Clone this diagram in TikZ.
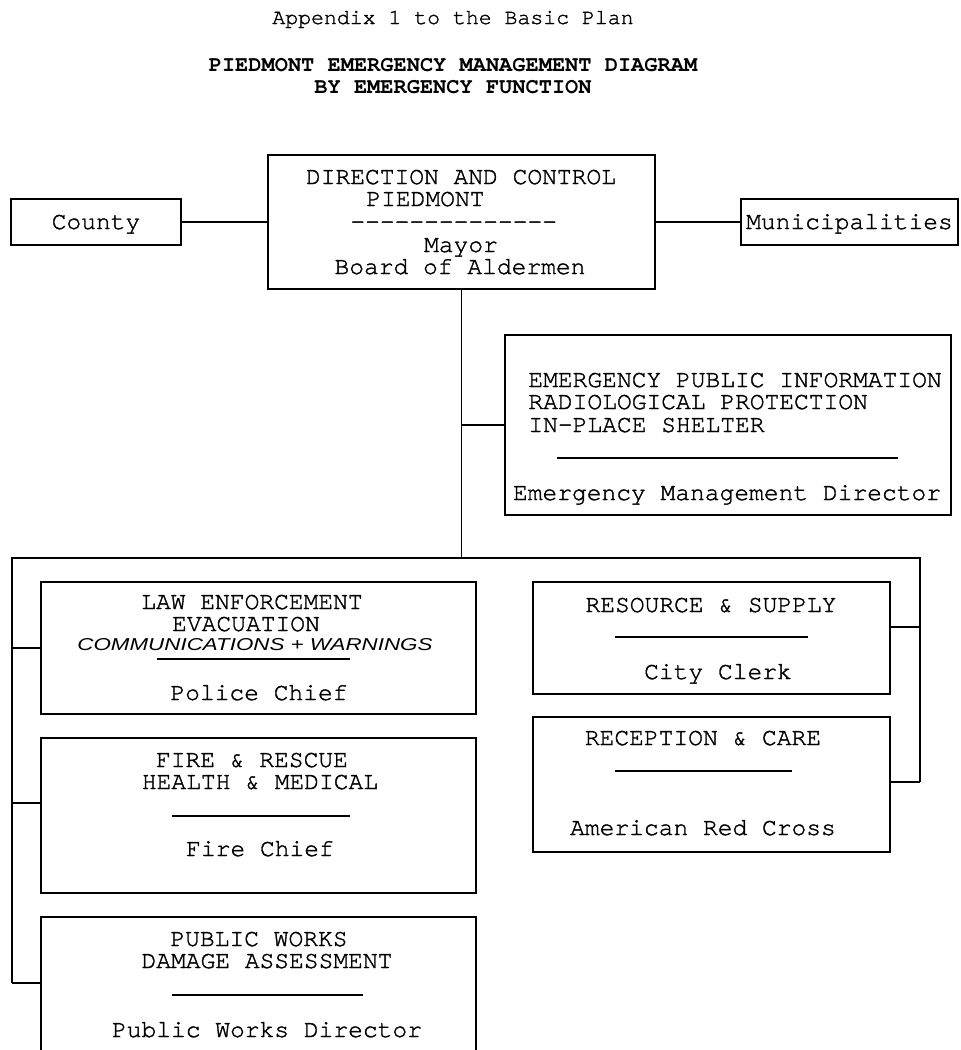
\documentclass[tikz,border=0pt]{standalone}
\usepackage{fontspec}
\usepackage{graphicx}
\setmonofont{TeX Gyre Cursor}
\newfontfamily\typefont{TeX Gyre Cursor}[FakeBold=1.4]
\newfontfamily\handfont{Liberation Sans}
\begin{document}
\begin{tikzpicture}[x=0.5pt, y=-0.5pt,
    box/.style={draw, line width=0.9pt, inner sep=0pt, outer sep=0pt},
    txt/.style={inner sep=0pt, font=\typefont\fontsize{12.3pt}{14pt}\selectfont, text height=7pt, text depth=0pt},
    head/.style={inner sep=0pt, font=\typefont\fontsize{10.75pt}{13pt}\selectfont, text height=6pt, text depth=0pt},
    bighead/.style={head, font=\ttfamily\bfseries\fontsize{11pt}{13pt}\selectfont},
    hand/.style={inner sep=0pt, font=\handfont\itshape\fontsize{8.6pt}{9pt}\selectfont},
    link/.style={line width=0.9pt},
    rule/.style={line width=0.8pt}]
    \useasboundingbox (0,0) rectangle (961,1050);
    \clip (0,0) rectangle (961,1050);
    \node[head] (app) at (453,18) {Appendix 1 to the Basic Plan};
    \node[bighead] (title) at (453,65) {PIEDMONT EMERGENCY MANAGEMENT DIAGRAM};
    \node[bighead] (subtitle) at (453,87) {BY EMERGENCY FUNCTION};
    \node[box, txt, minimum width=85pt, minimum height=23pt] (county) at (96,222) {County};
    \node[box, minimum width=193.5pt, minimum height=67pt] (dc) at (461.5,222) {};
    \node[box, txt, minimum width=108.5pt, minimum height=23pt] (muni) at (849.5,222) {Municipalities};
    \node[txt] (dc1) at (461,177) {DIRECTION AND CONTROL};
    \node[txt, anchor=west] (dc2) at (366,199) {PIEDMONT};
    \node[txt, anchor=west] (dc3) at (350,222) {-{}-{}-{}-{}-{}-{}-{}-{}-{}-{}-{}-{}-{}-{}};
    \node[txt] (dc4) at (461,245) {Mayor};
    \node[txt] (dc5) at (460,267) {Board of Aldermen};
    \node[box, minimum width=223pt, minimum height=90pt] (epi) at (728,425) {};
    \node[txt, anchor=west] (epi1) at (528,380) {EMERGENCY PUBLIC INFORMATION};
    \node[txt, anchor=west] (epi2) at (528,402) {RADIOLOGICAL PROTECTION};
    \node[txt, anchor=west] (epi3) at (528,425) {IN-PLACE SHELTER};
    \draw[rule] (557,458) -- (898,458);
    \node[txt] (epi4) at (727,493) {Emergency Management Director};
    \node[box, minimum width=217.5pt, minimum height=66pt] (law) at (258.5,648) {};
    \node[txt] (law1) at (252,602) {LAW ENFORCEMENT};
    \node[txt] (law2) at (246,624) {EVACUATION};
    \node[hand] (law3) at (255,645) {\scalebox{1.3}[1]{COMMUNICATIONS + WARNINGS}};
    \draw[rule] (157,659) -- (350,659);
    \node[txt] (law4) at (259,693) {Police Chief};
    \node[box, minimum width=217.5pt, minimum height=77.5pt] (fire) at (258.5,815.5) {};
    \node[txt] (fire1) at (252,760) {FIRE \& RESCUE};
    \node[txt] (fire2) at (260,782) {HEALTH \& MEDICAL};
    \draw[rule] (172,816) -- (350,816);
    \node[txt] (fire3) at (260,849) {Fire Chief};
    \node[box, minimum width=217.5pt, minimum height=72.5pt] (pw) at (258.5,989.5) {};
    \node[txt] (pw1) at (259,939) {PUBLIC WORKS};
    \node[txt] (pw2) at (267,961) {DAMAGE ASSESSMENT};
    \draw[rule] (172,995) -- (363,995);
    \node[txt] (pw3) at (267,1030) {Public Works Director};
    \node[box, minimum width=178.5pt, minimum height=56pt] (res) at (711.5,638) {};
    \node[txt] (res1) at (711,605) {RESOURCE \& SUPPLY};
    \draw[rule] (615,637) -- (808,637);
    \node[txt] (res2) at (718,672) {City Clerk};
    \node[box, minimum width=178.5pt, minimum height=67.5pt] (rec) at (711.5,784.5) {};
    \node[txt] (rec1) at (703,738) {RECEPTION \& CARE};
    \draw[rule] (615,771) -- (792,771);
    \node[txt] (rec2) at (703,828) {American Red Cross};
    \coordinate (bus) at (dc.south |- 0,558);
    \coordinate (busL) at (12,558);
    \coordinate (busR) at (920,558);
    \coordinate (jlaw) at (12,648);
    \coordinate (jfire) at (12,803);
    \coordinate (jpw) at (12,983);
    \coordinate (jres) at (920,627);
    \coordinate (jrec) at (920,782);
    \draw[link] (county.east) -- (dc.west);
    \draw[link] (dc.east) -- (muni.west);
    \draw[link] (dc.south) -- (bus);
    \draw[link] (dc.south |- epi.west) -- (epi.west);
    \draw[link] (jpw) -- (busL) -- (busR) -- (jrec);
    \draw[link] (jlaw) -- (jlaw -| law.west);
    \draw[link] (jfire) -- (jfire -| fire.west);
    \draw[link] (jpw) -- (jpw -| pw.west);
    \draw[link] (jres) -- (jres -| res.east);
    \draw[link] (jrec) -- (jrec -| rec.east);
\end{tikzpicture}
\end{document}
